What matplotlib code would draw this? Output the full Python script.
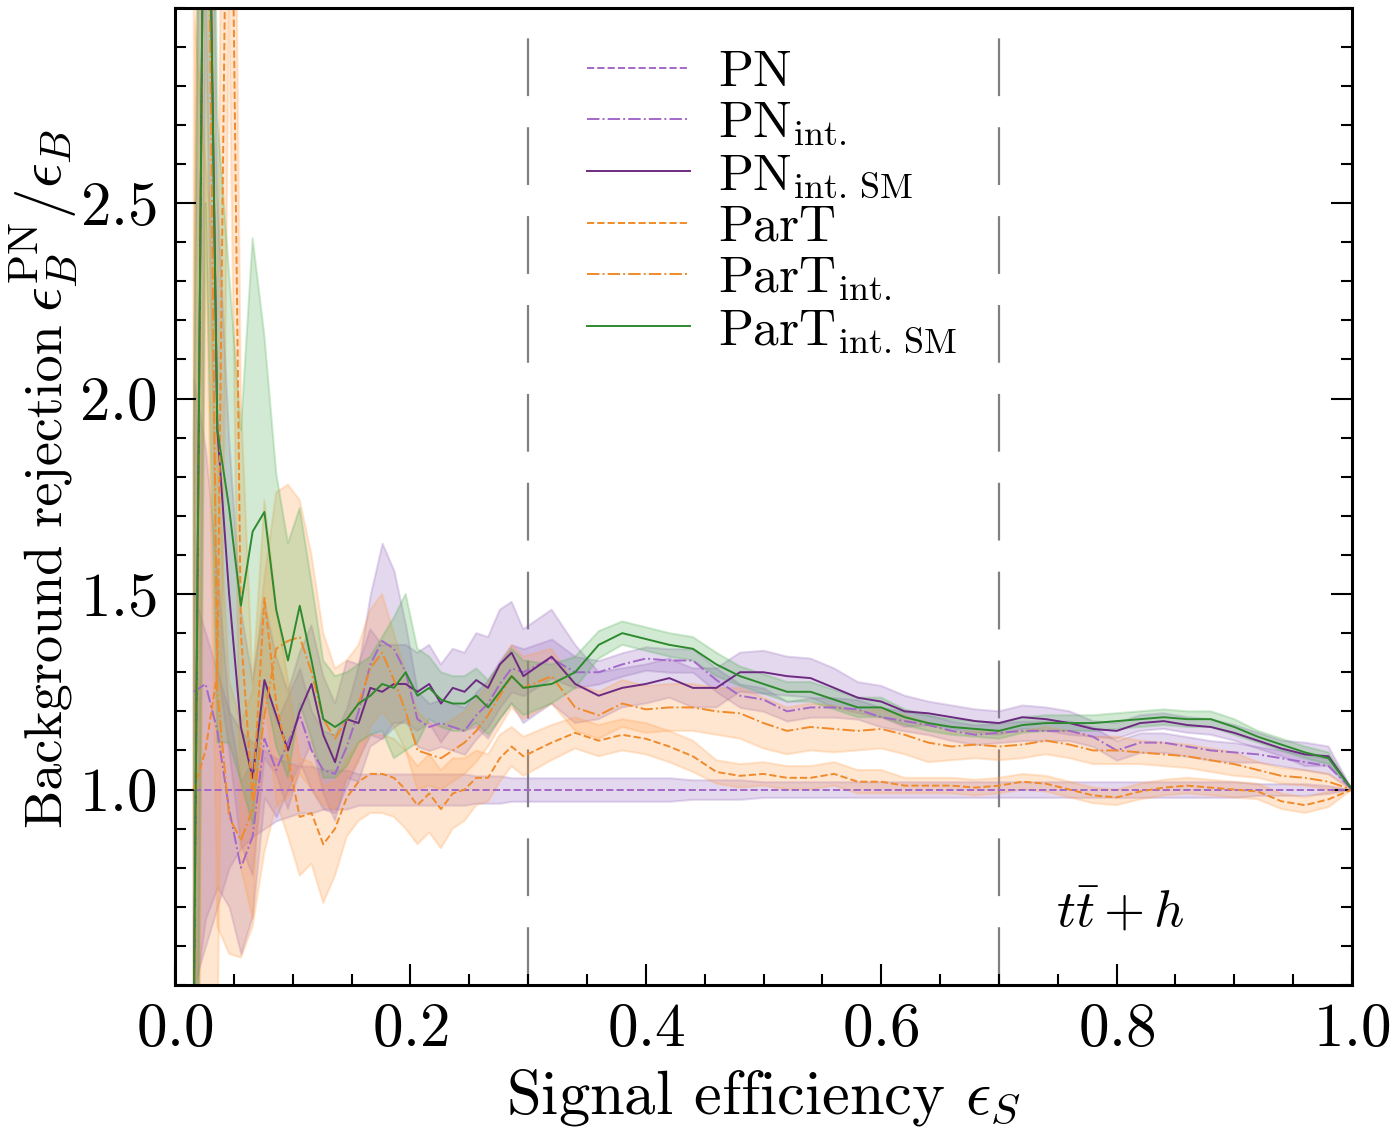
import numpy as np
import matplotlib
matplotlib.use("Agg")
import matplotlib.pyplot as plt
from matplotlib.ticker import MultipleLocator

plt.rcParams['font.family'] = 'serif'
plt.rcParams['font.serif'] = ['cmr10', 'DejaVu Serif']
plt.rcParams['mathtext.fontset'] = 'cm'
plt.rcParams['axes.formatter.use_mathtext'] = True

# ---------------- data ----------------
eff_s = [0.016, 0.026, 0.036, 0.046, 0.056, 0.066, 0.076, 0.086, 0.096, 0.106,
         0.116, 0.126, 0.136, 0.146, 0.156, 0.166, 0.176, 0.186, 0.196, 0.206,
         0.216, 0.226, 0.236, 0.246, 0.256, 0.266, 0.276, 0.286, 0.296,
         0.32, 0.34, 0.36, 0.38, 0.40, 0.42, 0.44, 0.46, 0.48, 0.50,
         0.52, 0.54, 0.56, 0.58, 0.60, 0.62, 0.64, 0.66, 0.68, 0.70,
         0.72, 0.74, 0.76, 0.78, 0.80, 0.82, 0.84, 0.86, 0.88, 0.90,
         0.92, 0.94, 0.96, 0.98, 1.00]

pn = [1.0] * 64
pn_err = [0.50, 0.40, 0.30, 0.20, 0.15, 0.12, 0.10, 0.08, 0.07, 0.06,
          0.06, 0.05, 0.05, 0.05, 0.04, 0.04, 0.04, 0.04, 0.04, 0.04,
          0.04, 0.04, 0.04, 0.04, 0.035, 0.035, 0.035, 0.03, 0.03,
          0.03, 0.03, 0.03, 0.03, 0.03, 0.03, 0.025, 0.025, 0.025, 0.02,
          0.02, 0.02, 0.02, 0.02, 0.02, 0.02, 0.02, 0.02, 0.02, 0.02,
          0.02, 0.02, 0.02, 0.02, 0.02, 0.02, 0.02, 0.02, 0.02, 0.02,
          0.015, 0.015, 0.015, 0.01, 0.0]

pn_int = [1.25, 1.27, 1.15, 0.95, 0.80, 0.88, 1.13, 1.05, 1.12, 1.19,
          1.10, 1.05, 1.04, 1.11, 1.20, 1.32, 1.38, 1.36, 1.30, 1.18,
          1.16, 1.17, 1.16, 1.15, 1.19, 1.22, 1.27, 1.31, 1.30,
          1.335, 1.30, 1.30, 1.32, 1.335, 1.33, 1.33, 1.28, 1.24, 1.23,
          1.20, 1.21, 1.21, 1.205, 1.185, 1.175, 1.165, 1.15, 1.14, 1.145,
          1.15, 1.15, 1.15, 1.135, 1.10, 1.12, 1.12, 1.11, 1.10, 1.095,
          1.09, 1.08, 1.07, 1.06, 1.0]
pn_int_err = [0.80, 0.60, 0.40, 0.25, 0.22, 0.20, 0.15, 0.12, 0.12, 0.12,
              0.10, 0.10, 0.10, 0.10, 0.12, 0.18, 0.25, 0.20, 0.12, 0.07,
              0.06, 0.06, 0.06, 0.06, 0.06, 0.06, 0.06, 0.06, 0.06,
              0.05, 0.04, 0.03, 0.03, 0.03, 0.03, 0.03, 0.03, 0.03, 0.03,
              0.025, 0.025, 0.025, 0.025, 0.025, 0.025, 0.025, 0.025, 0.025, 0.025,
              0.025, 0.025, 0.025, 0.025, 0.025, 0.025, 0.025, 0.025, 0.025, 0.025,
              0.02, 0.02, 0.02, 0.02, 0.0]

pn_int_sm = [0.40, 4.00, 1.92, 1.50, 1.16, 1.03, 1.28, 1.19, 1.10, 1.20,
             1.27, 1.14, 1.07, 1.18, 1.17, 1.26, 1.25, 1.27, 1.27, 1.25,
             1.27, 1.22, 1.26, 1.25, 1.28, 1.26, 1.32, 1.35, 1.29,
             1.34, 1.27, 1.24, 1.26, 1.27, 1.285, 1.26, 1.26, 1.30, 1.30,
             1.29, 1.285, 1.26, 1.235, 1.225, 1.20, 1.195, 1.185, 1.175, 1.17,
             1.185, 1.18, 1.17, 1.155, 1.15, 1.17, 1.175, 1.165, 1.16, 1.145,
             1.125, 1.105, 1.09, 1.085, 1.0]
pn_int_sm_err = [1.50, 1.00, 0.60, 0.40, 0.30, 0.25, 0.20, 0.15, 0.15, 0.15,
                 0.15, 0.15, 0.15, 0.15, 0.15, 0.15, 0.12, 0.10, 0.10, 0.10,
                 0.10, 0.10, 0.10, 0.10, 0.12, 0.13, 0.14, 0.13, 0.12,
                 0.12, 0.10, 0.06, 0.05, 0.05, 0.05, 0.05, 0.05, 0.05, 0.055,
                 0.05, 0.05, 0.05, 0.04, 0.04, 0.04, 0.03, 0.03, 0.03, 0.03,
                 0.03, 0.03, 0.03, 0.02, 0.02, 0.02, 0.02, 0.02, 0.02, 0.02,
                 0.02, 0.02, 0.03, 0.025, 0.0]

part = [1.00, 1.10, 1.30, 4.00, 1.40, 0.97, 1.49, 1.22, 1.08, 0.93,
        0.94, 0.86, 0.90, 0.98, 1.02, 1.04, 1.04, 1.03, 1.00, 0.96,
        0.99, 0.95, 0.99, 1.00, 1.03, 1.03, 1.08, 1.11, 1.085,
        1.12, 1.145, 1.125, 1.14, 1.13, 1.11, 1.085, 1.045, 1.035, 1.04,
        1.03, 1.03, 1.04, 1.02, 1.02, 1.01, 1.01, 1.01, 1.005, 1.01,
        1.02, 1.015, 1.0, 0.985, 0.98, 0.995, 1.005, 1.01, 1.005, 1.0,
        0.995, 0.97, 0.96, 0.975, 1.0]
part_err = [2.00, 1.50, 1.00, 1.00, 0.60, 0.30, 0.25, 0.25, 0.20, 0.15,
            0.13, 0.15, 0.12, 0.10, 0.10, 0.10, 0.10, 0.10, 0.10, 0.10,
            0.10, 0.10, 0.09, 0.08, 0.07, 0.06, 0.06, 0.05, 0.05,
            0.045, 0.04, 0.04, 0.04, 0.04, 0.04, 0.04, 0.03, 0.03, 0.03,
            0.03, 0.03, 0.03, 0.03, 0.03, 0.02, 0.02, 0.02, 0.02, 0.02,
            0.02, 0.02, 0.02, 0.02, 0.02, 0.02, 0.02, 0.02, 0.02, 0.02,
            0.02, 0.02, 0.02, 0.02, 0.0]

part_int = [0.30, 4.00, 1.25, 0.93, 0.87, 0.95, 1.19, 1.36, 1.38, 1.39,
            1.30, 1.18, 1.13, 1.18, 1.22, 1.31, 1.35, 1.28, 1.20, 1.10,
            1.09, 1.08, 1.10, 1.12, 1.15, 1.19, 1.24, 1.29, 1.26,
            1.29, 1.21, 1.19, 1.22, 1.205, 1.21, 1.21, 1.20, 1.195, 1.17,
            1.15, 1.16, 1.155, 1.15, 1.155, 1.14, 1.12, 1.11, 1.115, 1.11,
            1.115, 1.125, 1.115, 1.10, 1.10, 1.095, 1.09, 1.085, 1.075, 1.065,
            1.05, 1.035, 1.03, 1.02, 1.0]
part_int_err = [2.00, 1.50, 0.60, 0.35, 0.30, 0.30, 0.35, 0.40, 0.40, 0.35,
                0.30, 0.22, 0.18, 0.15, 0.15, 0.15, 0.15, 0.12, 0.10, 0.10,
                0.08, 0.08, 0.08, 0.08, 0.08, 0.08, 0.08, 0.08, 0.08,
                0.07, 0.06, 0.06, 0.06, 0.06, 0.06, 0.06, 0.06, 0.065, 0.065,
                0.06, 0.06, 0.06, 0.05, 0.05, 0.05, 0.05, 0.035, 0.035, 0.035,
                0.035, 0.035, 0.035, 0.035, 0.035, 0.03, 0.03, 0.03, 0.03, 0.03,
                0.02, 0.02, 0.02, 0.02, 0.0]

part_int_sm = [0.40, 4.00, 1.92, 1.72, 1.47, 1.66, 1.71, 1.46, 1.33, 1.47,
               1.33, 1.18, 1.16, 1.18, 1.22, 1.24, 1.27, 1.26, 1.30, 1.24,
               1.26, 1.23, 1.22, 1.22, 1.24, 1.21, 1.25, 1.29, 1.26,
               1.27, 1.30, 1.37, 1.40, 1.385, 1.37, 1.36, 1.32, 1.29, 1.27,
               1.25, 1.25, 1.23, 1.21, 1.21, 1.185, 1.17, 1.16, 1.155, 1.15,
               1.165, 1.17, 1.17, 1.17, 1.175, 1.18, 1.185, 1.18, 1.18, 1.16,
               1.135, 1.115, 1.095, 1.08, 1.0]
part_int_sm_err = [1.50, 1.50, 0.80, 0.60, 0.45, 0.75, 0.45, 0.35, 0.30, 0.25,
                   0.20, 0.15, 0.13, 0.12, 0.10, 0.10, 0.12, 0.18, 0.20, 0.12,
                   0.08, 0.07, 0.07, 0.07, 0.07, 0.07, 0.07, 0.07, 0.07,
                   0.05, 0.04, 0.035, 0.03, 0.03, 0.03, 0.03, 0.03, 0.025, 0.025,
                   0.025, 0.025, 0.025, 0.025, 0.025, 0.02, 0.02, 0.02, 0.02, 0.02,
                   0.02, 0.02, 0.02, 0.02, 0.02, 0.02, 0.02, 0.02, 0.02, 0.02,
                   0.015, 0.015, 0.015, 0.015, 0.0]

labels = [r'$\mathrm{PN}$', r'$\mathrm{PN}_{\mathrm{int.}}$', r'$\mathrm{PN}_{\mathrm{int.\,SM}}$',
          r'$\mathrm{ParT}$', r'$\mathrm{ParT}_{\mathrm{int.}}$', r'$\mathrm{ParT}_{\mathrm{int.\,SM}}$']
wp_lines = [0.3, 0.7]

# ---------------- plot ----------------
fig = plt.figure(figsize=(13.93, 11.38), dpi=100)
ax = fig.add_axes([0.1256, 0.1344, 0.8450, 0.8590])

purple_band = '#9467bd'
orange_band = '#ff9f4a'
green_band = '#4caf50'

series = [
    (pn, pn_err, '#a468c8', '--', purple_band),
    (pn_int, pn_int_err, '#a468c8', '-.', purple_band),
    (pn_int_sm, pn_int_sm_err, '#6e2a82', '-', purple_band),
    (part, part_err, '#f08a2a', '--', orange_band),
    (part_int, part_int_err, '#f08a2a', '-.', orange_band),
    (part_int_sm, part_int_sm_err, '#2e8a2e', '-', green_band),
]

x = np.array(eff_s)
for (y, e, c, ls, bc), lab in zip(series, labels):
    y = np.array(y)
    e = np.array(e)
    ax.fill_between(x, y - e, y + e, color=bc, alpha=0.25, linewidth=1.5,
                    edgecolor=bc)
for (y, e, c, ls, bc), lab in zip(series, labels):
    ax.plot(x, y, color=c, ls=ls, lw=1.4, label=lab)

for wp in wp_lines:
    ax.axvline(wp, color='#808080', lw=1.6, dashes=(26, 14), zorder=0.5)

ax.set_xlim(0, 1)
ax.set_ylim(0.5, 3.0)
ax.set_yticks([1.0, 1.5, 2.0, 2.5])
ax.set_xticks([0.0, 0.2, 0.4, 0.6, 0.8, 1.0])
ax.xaxis.set_minor_locator(MultipleLocator(0.05))
ax.yaxis.set_minor_locator(MultipleLocator(0.1))
ax.tick_params(which='both', direction='in', left=True, right=True, top=False,
               bottom=True, labelsize=44, width=1.5)
ax.tick_params(which='major', length=15, pad=13)
ax.tick_params(which='minor', length=8)
for sp in ax.spines.values():
    sp.set_linewidth(2.2)

ax.set_xlabel(r'Signal efficiency $\epsilon_S$', fontsize=45, labelpad=6)

# y label drawn in two parts (text + larger math) to mimic LaTeX proportions
W, H = fig.get_size_inches() * fig.dpi
x_base = 62.0 / W
t1 = fig.text(x_base, 1 - 828.0 / H, 'Background rejection', rotation=90,
              rotation_mode='anchor', ha='left', va='baseline', fontsize=39)
fig.canvas.draw()
r = fig.canvas.get_renderer()
bb = t1.get_window_extent(r)
t2 = fig.text(x_base, (bb.y1 + 12) / H, r'$\epsilon_B^{\mathrm{PN}}/\epsilon_B$', rotation=90,
              rotation_mode='anchor', ha='left', va='baseline', fontsize=44)

ax.text(0.803, 0.687, r'$t\bar{t}+h$', fontsize=38, ha='center', va='center')

leg = ax.legend(loc='upper left', bbox_to_anchor=(0.35, 0.957), frameon=False,
                fontsize=37, handlelength=2.0, handletextpad=0.55,
                labelspacing=0.10, borderpad=0, borderaxespad=0)

fig.savefig('out.png', dpi=100)
